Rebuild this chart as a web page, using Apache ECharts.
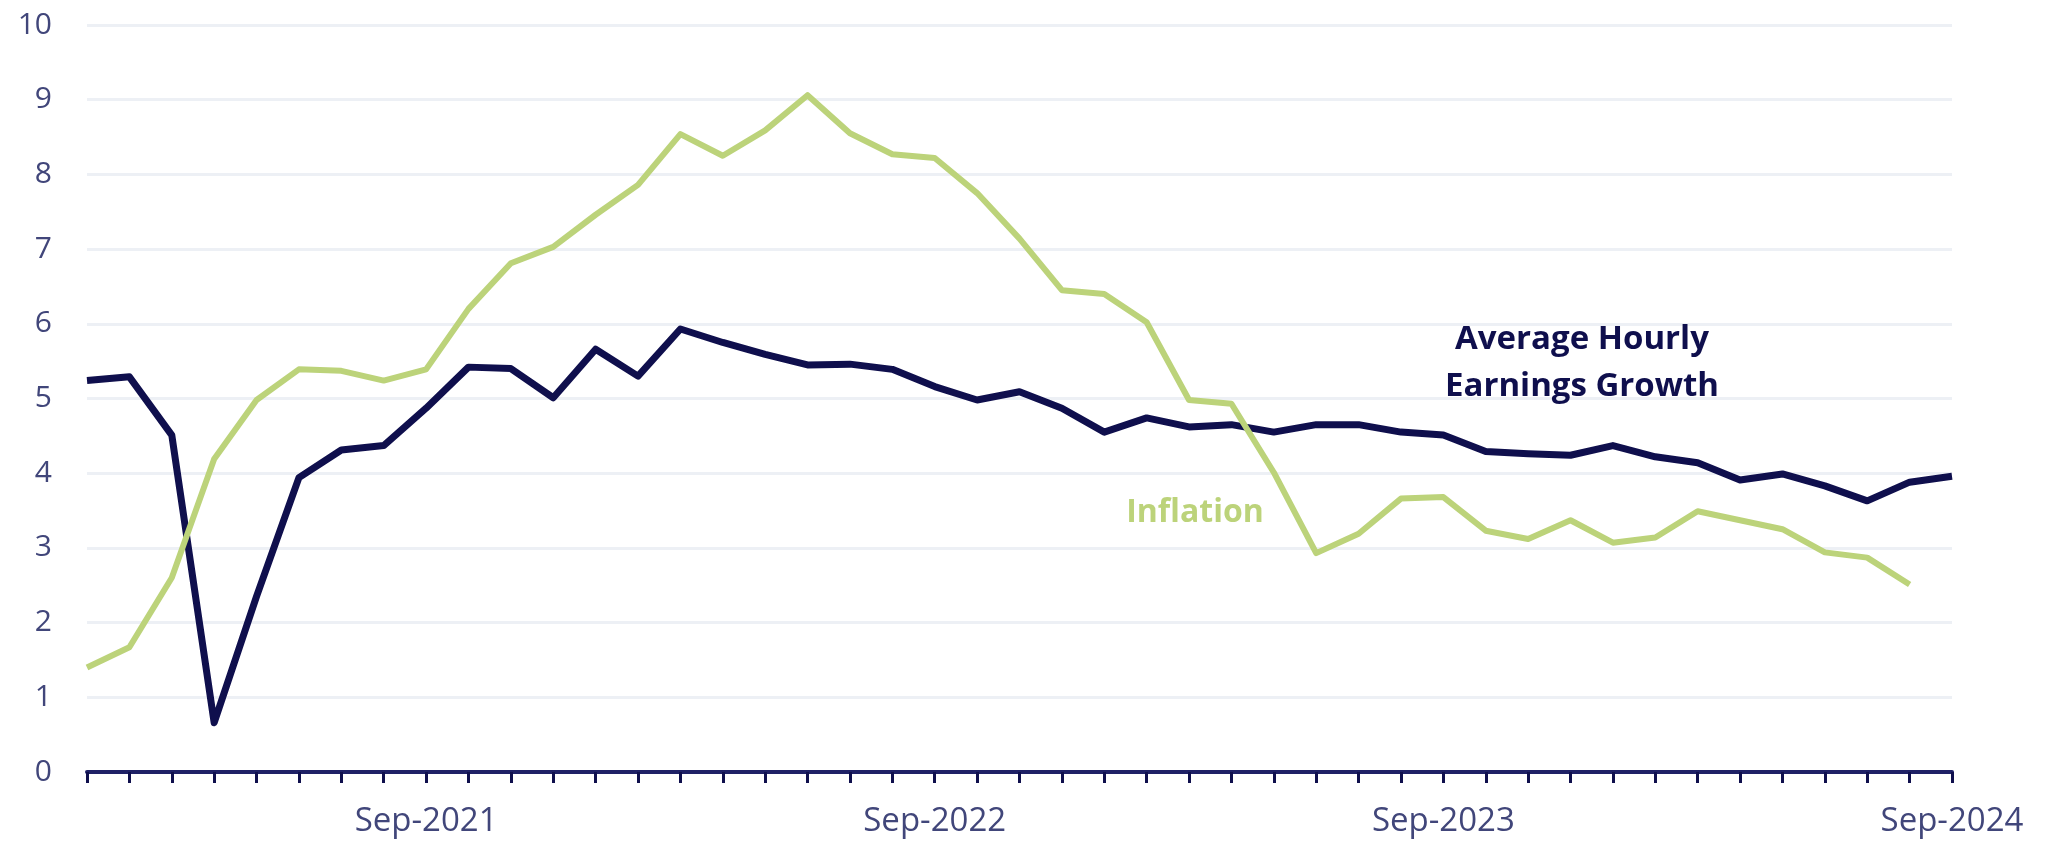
<!DOCTYPE html>
<html>
<head>
<meta charset="utf-8">
<title>Average Hourly Earnings Growth vs Inflation</title>
<script src="https://cdn.jsdelivr.net/npm/echarts@6/dist/echarts.min.js"></script>
<style>
  html, body { margin: 0; padding: 0; background: #ffffff; }
  #main { width: 2057px; height: 842px; }
</style>
</head>
<body>
<div id="main"></div>
<script>
var months = [
  'Jan-2021', 'Feb-2021', 'Mar-2021', 'Apr-2021', 'May-2021', 'Jun-2021',
  'Jul-2021', 'Aug-2021', 'Sep-2021', 'Oct-2021', 'Nov-2021', 'Dec-2021',
  'Jan-2022', 'Feb-2022', 'Mar-2022', 'Apr-2022', 'May-2022', 'Jun-2022',
  'Jul-2022', 'Aug-2022', 'Sep-2022', 'Oct-2022', 'Nov-2022', 'Dec-2022',
  'Jan-2023', 'Feb-2023', 'Mar-2023', 'Apr-2023', 'May-2023', 'Jun-2023',
  'Jul-2023', 'Aug-2023', 'Sep-2023', 'Oct-2023', 'Nov-2023', 'Dec-2023',
  'Jan-2024', 'Feb-2024', 'Mar-2024', 'Apr-2024', 'May-2024', 'Jun-2024',
  'Jul-2024', 'Aug-2024', 'Sep-2024'
];

// average hourly earnings growth, % y/y
var earnings = [
  5.24, 5.29, 4.51, 0.66, 2.35, 3.94, 4.31, 4.37, 4.87, 5.42, 5.40, 5.01,
  5.66, 5.30, 5.93, 5.75, 5.59, 5.45, 5.46, 5.39, 5.16, 4.98, 5.09, 4.87,
  4.55, 4.74, 4.62, 4.65, 4.55, 4.65, 4.65, 4.55, 4.51, 4.29, 4.26, 4.24,
  4.37, 4.22, 4.14, 3.91, 3.99, 3.83, 3.63, 3.88, 3.96
];

// inflation, % y/y (no Sep-2024 print yet)
var inflation = [
  1.40, 1.67, 2.60, 4.19, 4.98, 5.39, 5.37, 5.24, 5.39, 6.20, 6.81, 7.03,
  7.46, 7.86, 8.54, 8.25, 8.59, 9.06, 8.55, 8.27, 8.22, 7.75, 7.14, 6.45,
  6.40, 6.02, 4.98, 4.93, 4.01, 2.93, 3.19, 3.66, 3.68, 3.23, 3.12, 3.37,
  3.07, 3.14, 3.49, 3.37, 3.25, 2.94, 2.87, 2.51
];

var yTicks = [0, 1, 2, 3, 4, 5, 6, 7, 8, 9, 10];

var navy = '#0f0f4d';
var green = '#bcd37a';
var labelColor = '#41467a';

var myChart = echarts.init(document.getElementById('main'));

var option = {
  backgroundColor: '#ffffff',
  animation: false,
  grid: {
    left: 87,
    right: 105,
    top: 25,
    bottom: 70,
    containLabel: false
  },
  xAxis: {
    type: 'category',
    data: months,
    boundaryGap: false,
    axisLine: {
      show: true,
      lineStyle: { color: '#1f2166', width: 4 }
    },
    axisTick: {
      show: true,
      interval: 0,
      length: 11,
      lineStyle: { color: navy, width: 3 }
    },
    axisLabel: {
      // only the September months get a label
      interval: function(index) {
        return index % 12 === 8;
      },
      margin: 33,
      color: labelColor,
      fontFamily: 'Open Sans',
      fontSize: 33
    },
    splitLine: { show: false }
  },
  yAxis: {
    type: 'value',
    min: yTicks[0],
    max: yTicks[yTicks.length - 1],
    interval: 1,
    axisLine: { show: false },
    axisTick: { show: false },
    axisLabel: {
      margin: 35,
      color: labelColor,
      fontFamily: 'Open Sans',
      fontSize: 30
    },
    splitLine: {
      lineStyle: { color: '#edf0f5', width: 3 }
    }
  },
  series: [{
    name: 'Average Hourly Earnings Growth',
    type: 'line',
    data: earnings,
    symbol: 'none',
    lineStyle: { color: navy, width: 7, join: 'round' },
    z: 2
  }, {
    name: 'Inflation',
    type: 'line',
    data: inflation,
    symbol: 'none',
    lineStyle: { color: green, width: 6, join: 'round' },
    z: 3
  }],
  title: [{
    text: 'Average Hourly\nEarnings Growth',
    left: 1582,
    top: 316,
    textAlign: 'center',
    padding: 0,
    textStyle: {
      color: navy,
      fontFamily: 'Open Sans',
      fontWeight: 'bold',
      fontSize: 33,
      lineHeight: 47
    }
  }, {
    text: 'Inflation',
    left: 1195,
    top: 492,
    textAlign: 'center',
    padding: 0,
    textStyle: {
      color: green,
      fontFamily: 'Open Sans',
      fontWeight: 'bold',
      fontSize: 32,
      lineHeight: 42
    }
  }]
};

myChart.setOption(option);
</script>
</body>
</html>
